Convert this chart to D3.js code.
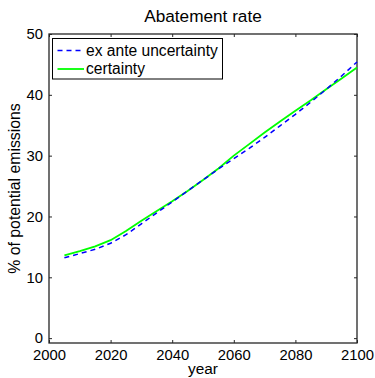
<!DOCTYPE html>
<html>
<head>
<meta charset="utf-8">
<script src="https://cdn.jsdelivr.net/npm/d3@7"></script>
<style>
  html, body { margin: 0; padding: 0; background: #fff; }
  svg { display: block; font-family: Arial, "Liberation Sans", Helvetica, sans-serif; }
</style>
</head>
<body>
<svg id="chart" width="375" height="378"></svg>
<script>
// Abatement rate, % of potential emissions, 2005–2100
const years = [2005, 2010, 2015, 2020, 2025, 2030, 2035, 2040, 2045, 2050,
               2055, 2060, 2065, 2070, 2075, 2080, 2085, 2090, 2095, 2100];
const exAnte = [13.2, 13.9, 14.6, 15.6, 17.0, 18.8, 20.6, 22.4, 24.2, 26.0,
                27.8, 29.5, 31.2, 33.0, 34.9, 36.8, 38.8, 40.9, 43.1, 45.4];
const certainty = [13.6, 14.3, 15.1, 16.1, 17.6, 19.3, 20.9, 22.5, 24.2, 26.0,
                   27.9, 30.0, 31.9, 33.8, 35.6, 37.4, 39.1, 40.9, 42.7, 44.5];
const xTicks = [2000, 2020, 2040, 2060, 2080, 2100];
const yTicks = [0, 10, 20, 30, 40, 50];
const seriesNames = ["ex ante uncertainty", "certainty"];
const seriesColors = ["#0000ff", "#00ff00"];

const svg = d3.select("#chart");
const L = 49, R = 357, T = 34, B = 343;

const x = d3.scaleLinear().domain([2000, 2100]).range([L, R]);
const y = d3.scaleLinear().domain([-0.8, 50]).range([B, T]);

const axisColor = "#262626";
const tickLen = 3;

// Tick marks drawn inward on all four sides
const g = svg.append("g");
const axisB = d3.axisBottom(x).tickValues(xTicks).tickSize(-tickLen).tickPadding(6).tickFormat(d3.format("d"));
const axisT = d3.axisTop(x).tickValues(xTicks).tickSize(-tickLen).tickFormat("");
const axisL = d3.axisLeft(y).tickValues(yTicks).tickSize(-tickLen).tickPadding(6);
const axisR = d3.axisRight(y).tickValues(yTicks).tickSize(-tickLen).tickFormat("");

function styleAxis(sel) {
  sel.select(".domain").remove();
  sel.selectAll(".tick line").attr("stroke", axisColor).attr("stroke-width", 1);
  sel.selectAll(".tick text").attr("fill", "#000").style("font-size", "14.8px");
}
g.append("g").attr("transform", `translate(0,${B})`).call(axisB).call(styleAxis)
  .selectAll(".tick text").attr("dy", "0.71em");
g.append("g").attr("transform", `translate(0,${T})`).call(axisT).call(styleAxis);
g.append("g").attr("transform", `translate(${L},0)`).call(axisL).call(styleAxis);
g.append("g").attr("transform", `translate(${R},0)`).call(axisR).call(styleAxis);

// Axes box
svg.append("rect")
  .attr("x", L).attr("y", T).attr("width", R - L).attr("height", B - T)
  .attr("fill", "none").attr("stroke", axisColor).attr("stroke-width", 1.3);

// Series lines
const line = d3.line().x(d => x(d[0])).y(d => y(d[1]));
svg.append("path")
  .datum(years.map((yr, i) => [yr, certainty[i]]))
  .attr("d", line).attr("fill", "none")
  .attr("stroke", seriesColors[1]).attr("stroke-width", 1.8);
svg.append("path")
  .datum(years.map((yr, i) => [yr, exAnte[i]]))
  .attr("d", line).attr("fill", "none")
  .attr("stroke", seriesColors[0]).attr("stroke-width", 1.5)
  .attr("stroke-dasharray", "5,4");

// Legend
const lg = svg.append("g");
lg.append("rect").attr("x", 52.5).attr("y", 38.5).attr("width", 170).attr("height", 40.5)
  .attr("fill", "#fff").attr("stroke", "#000").attr("stroke-width", 1);
seriesNames.forEach((name, i) => {
  const ly = 50.5 + i * 18.5;
  lg.append("line").attr("x1", 57.5).attr("x2", 84).attr("y1", ly).attr("y2", ly)
    .attr("stroke", seriesColors[i]).attr("stroke-width", i === 0 ? 1.5 : 1.8)
    .attr("stroke-dasharray", i === 0 ? "5,4" : null);
  lg.append("text").attr("x", 86).attr("y", ly).attr("dy", "0.35em")
    .style("font-size", "15.6px").attr("fill", "#000").text(name);
});

// Title and axis labels
svg.append("text").attr("x", (L + R) / 2).attr("y", 22).attr("text-anchor", "middle")
  .style("font-size", "17.2px").attr("fill", "#000").text("Abatement rate");
svg.append("text").attr("x", (L + R) / 2).attr("y", 374).attr("text-anchor", "middle")
  .style("font-size", "15.4px").attr("fill", "#000").text("year");
svg.append("text")
  .attr("transform", `translate(20,${(T + B) / 2}) rotate(-90)`)
  .attr("text-anchor", "middle")
  .style("font-size", "15.8px").attr("fill", "#000").text("% of potential emissions");
</script>
</body>
</html>
